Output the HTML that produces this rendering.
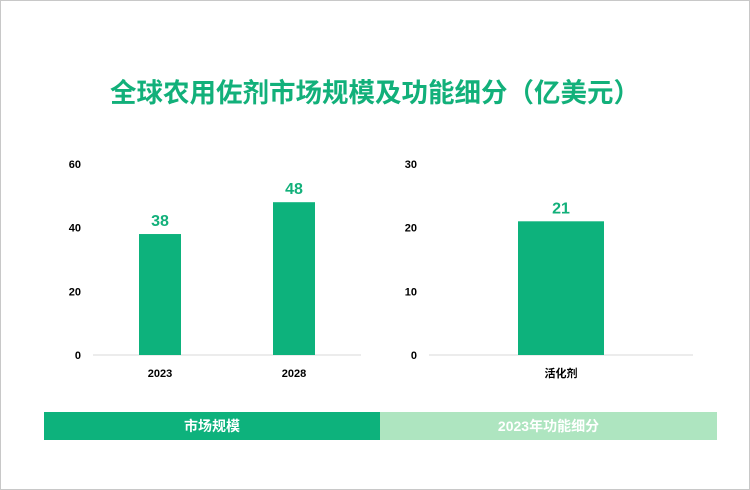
<!DOCTYPE html>
<html><head><meta charset="utf-8"><style>
body{margin:0;background:#fff}
#wrap{position:relative;width:748px;height:488px;border:1px solid #c8c8c8;overflow:hidden;font-family:"Liberation Sans","Noto Sans CJK SC",sans-serif}
.t{position:absolute}
</style></head><body>
<div id="wrap">
<div class="t" style="left:0;width:748px;top:70px;text-align:center;font-size:26.5px;font-weight:bold;color:#12b07a">全球农用佐剂市场规模及功能细分（亿美元）</div>
<svg id="svg" width="748" height="488" style="position:absolute;left:0;top:0"></svg>
<div class="t" style="left:43px;top:411px;width:336px;height:28px;background:#0db27c;color:#fff;font-size:14px;font-weight:bold;line-height:28px;text-align:center">市场规模</div>
<div class="t" style="left:379px;top:411px;width:337px;height:28px;background:#aee5c0;color:#fff;font-size:14px;font-weight:bold;line-height:28px;text-align:center">2023年功能细分</div>
</div>
<script>
const leftCats=["2023","2028"];
const leftVals=[38,48];
const leftTicks=[0,20,40,60];
const rightCats=["活化剂"];
const rightVals=[21];
const rightTicks=[0,10,20,30];
const svg=document.getElementById('svg');
const NS='http://www.w3.org/2000/svg';
function mk(t,a){const e=document.createElementNS(NS,t);for(const k in a)e.setAttribute(k,a[k]);svg.appendChild(e);return e;}
function chart(cats,vals,ticks,x0,x1,bw,prefix){
  const base=354,top=163,max=ticks[ticks.length-1];
  const y=v=>base-(v/max)*(base-top);
  ticks.forEach(t=>{const e=mk('text',{x:x0-12,y:y(t)+4,'text-anchor':'end','font-size':11,'font-weight':'bold',fill:'#000'});e.textContent=t;
    
    });
  const l=mk('line',{x1:x0,x2:x1,y1:base,y2:base,stroke:'#d9d9d9','stroke-width':1});
  
  
  const step=(x1-x0)/cats.length;
  cats.forEach((c,i)=>{const cx=x0+step*(i+0.5);
    const r=mk('rect',{x:cx-bw/2,y:y(vals[i]),width:bw,height:base-y(vals[i]),fill:'#0db27c'});
    
    
    const v=mk('text',{x:cx,y:y(vals[i])-8,'text-anchor':'middle','font-size':16,'font-weight':'bold',fill:'#12b07a'});v.textContent=vals[i];
    
    
    const t=mk('text',{x:cx,y:base+22,'text-anchor':'middle','font-size':11,'font-weight':'bold',fill:'#000'});t.textContent=c;
    
    });
}
chart(leftCats,leftVals,leftTicks,92,360,42,'left');
chart(rightCats,rightVals,rightTicks,428,692,86,'right');
</script>
</body></html>
